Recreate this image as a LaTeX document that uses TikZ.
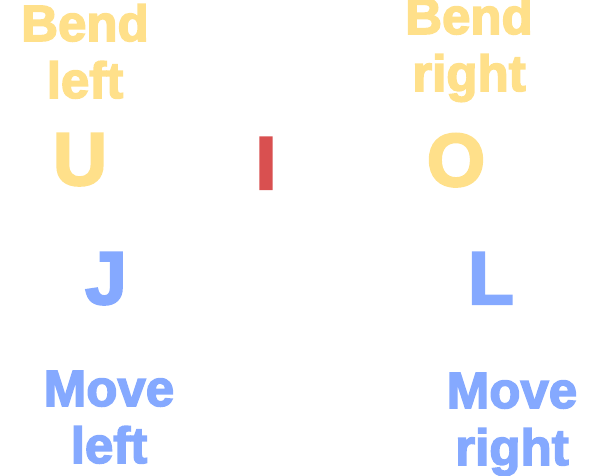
\documentclass[tikz,border=0pt]{standalone}
\usepackage{fontspec}
\setmainfont{Liberation Sans}[BoldFeatures={FakeBold=3}]
\definecolor{bendyellow}{RGB}{255,224,138}
\definecolor{keyred}{RGB}{217,80,80}
\definecolor{moveblue}{RGB}{133,169,255}

\begin{document}
\begin{tikzpicture}[x=1pt,y=-1pt,
	hint/.style={anchor=base, align=center, inner sep=0pt, font=\bfseries\fontsize{51}{57}\selectfont},
	keycap/.style={anchor=base, inner sep=0pt, font=\bfseries\fontsize{75}{80}\selectfont}]
	\useasboundingbox (0,0) rectangle (600,476);
	
	% Text Node
	\node [hint, text=bendyellow] (bendleft) at (85,98) {Bend\\left};
	% Text Node
	\node [hint, text=bendyellow] (bendright) at (469,91) {Bend\\right};
	
	% Text Node
	\node [keycap, text=bendyellow] (keyU) at (80,185) {U};
	% Text Node
	\node [keycap, text=keyred] (keyI) at (266,189) {I};
	% Text Node
	\node [keycap, text=bendyellow] (keyO) at (456,186) {O};
	% Text Node
	\node [keycap, text=moveblue] (keyJ) at (106,304) {J};
	% Text Node
	\node [keycap, text=moveblue] (keyL) at (491,304) {L};
	
	% Text Node
	\node [hint, text=moveblue] (moveleft) at (109,463) {Move\\left};
	% Text Node
	\node [hint, text=moveblue] (moveright) at (512,465) {Move\\right};
	
\end{tikzpicture}
\end{document}
